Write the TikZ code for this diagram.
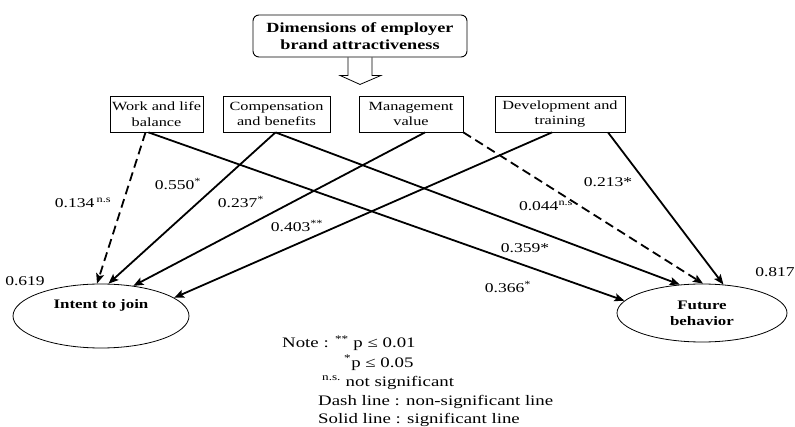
\documentclass[tikz,border=0pt]{standalone}
\usepackage{fontspec}
\setmainfont{Liberation Serif}[FakeStretch=1.3]
\usetikzlibrary{arrows.meta, arrows, shapes.geometric}

\begin{document}
\begin{tikzpicture}
[x=1pt, y=-1pt, >={Stealth[length=10pt,width=8pt,inset=2pt]}, path line/.style={->, line width=1.8pt}, dashed path/.style={->, line width=1.8pt, dash pattern=on 9pt off 5pt}, dim box/.style={draw, line width=0.8pt, align=center, inner sep=1pt, minimum height=36pt, font=\fontsize{12.5}{15.5}\selectfont}, outcome/.style={draw, ellipse, line width=0.8pt, inner sep=0pt}, coef/.style={font=\fontsize{13.5}{15}\selectfont}, note line/.style={anchor=base west, inner sep=0pt, font=\fontsize{14.5}{16}\selectfont}]
    \useasboundingbox (0,0) rectangle (795,427);
    \node[draw, rounded corners=6pt, line width=0.9pt, align=center, minimum width=214pt, minimum height=42pt, font=\bfseries\fontsize{14}{17}\selectfont] (dims) at (360,36) {Dimensions of employer\\brand attractiveness};
    \draw[line width=0.8pt] ([xshift=-12pt]dims.south) -- ++(0,18) -- ++(-8,0) -- ++(20,9) -- ++(21,-9) -- ++(-9,0) -- ++(0,-18);
    \node[dim box, minimum width=93pt] (work) at (156.5,114) {Work and life\\balance};
    \node[dim box, minimum width=107pt] (comp) at (276.5,114) {Compensation\\and benefits};
    \node[dim box, minimum width=104pt] (mgmt) at (411,114) {Management\\value};
    \node[dim box, minimum width=130pt] (dev) at (560,114) {Development and\\training};
    \node[outcome, minimum width=176pt, minimum height=64pt] (intent) at (101,316) {};
    \node[font=\bfseries\fontsize{13}{15}\selectfont] (intenttext) at (101,305) {Intent to join};
    \node[outcome, minimum width=170pt, minimum height=58pt, align=center, font=\bfseries\fontsize{13}{16}\selectfont] (future) at (702,313) {Future\\behavior};
    \node[coef] (r2a) at (25,281) {0.619};
    \node[coef] (r2b) at (775,272) {0.817};
    % paths to intent to join
    \draw[dashed path] ([xshift=-11pt]work.south) -- (intent.97);
    \draw[path line] ([xshift=-1pt]comp.south) -- (intent.77);
    \draw[path line] ([xshift=14pt]mgmt.south) -- (intent.43);
    \draw[path line] ([xshift=-8pt]dev.south) -- (intent.14);
    % paths to future behavior
    \draw[path line] ([xshift=-8pt]work.south) -- (future.171);
    \draw[path line] ([xshift=-1pt]comp.south) -- (future.128);
    \draw[dashed path] (mgmt.south east) -- (future.88);
    \draw[path line] ([xshift=48pt]dev.south) -- (future.53);
    \node[coef] (c1) at (83,203) {0.134\,\textsuperscript{n.s}};
    \node[coef] (c2) at (178,184) {0.550\textsuperscript{*}};
    \node[coef] (c3) at (241,202) {0.237\textsuperscript{*}};
    \node[coef] (c4) at (297,226) {0.403\textsuperscript{**}};
    \node[coef] (c5) at (608,182) {0.213*};
    \node[coef] (c6) at (546,206) {0.044\textsuperscript{n.s}};
    \node[coef] (c7) at (525,248) {0.359*};
    \node[coef] (c8) at (508,287) {0.366\textsuperscript{*}};
    % note
    \node[note line] (note1) at (282,348) {Note : \textsuperscript{**} p ≤ 0.01};
    \node[note line] (note2) at (344,367) {\textsuperscript{*}p ≤ 0.05};
    \node[note line] (note3) at (322,386) {\textsuperscript{n.s.} not significant};
    \node[note line] (note4) at (318,405) {Dash line : non-significant line};
    \node[note line] (note5) at (318,424) {Solid line : significant line};
\end{tikzpicture}
\end{document}
